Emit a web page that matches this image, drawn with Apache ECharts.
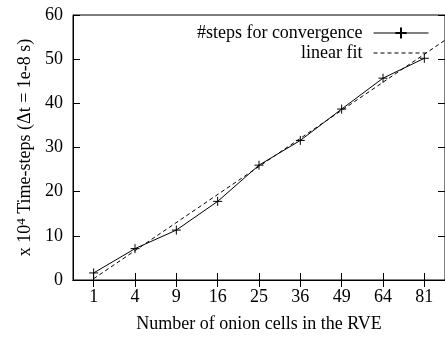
<!DOCTYPE html>
<html>
<head>
<meta charset="utf-8">
<script src="https://cdn.jsdelivr.net/npm/echarts@6/dist/echarts.min.js"></script>
<style>
html,body{margin:0;padding:0;background:#fff;}
#chart{width:445px;height:338px;}
</style>
</head>
<body>
<div id="chart"></div>
<script>
// x positions are sqrt(number of cells); labels show the cell counts
var xPos = [1, 2, 3, 4, 5, 6, 7, 8, 9];
var xLabels = ['1', '4', '9', '16', '25', '36', '49', '64', '81'];
var steps = [1.6, 7.1, 11.3, 17.8, 26.0, 31.6, 38.7, 45.7, 50.2];
var fitX = [1, 9.5];
var fitY = [0.3, 54.3];

var FONT = 'Liberation Serif';
var FS = 18;

var chart = echarts.init(document.getElementById('chart'));

var cross = 'path://M0,5L10,5M5,0L5,10';

var option = {
    animation: false,
    grid: {
        left: 73,
        top: 15,
        right: -5,
        bottom: 55,
        show: true,
        borderColor: '#000',
        borderWidth: 1
    },
    legend: {
        orient: 'vertical',
        right: 11,
        top: 19,
        align: 'right',
        itemWidth: 55,
        itemHeight: 14,
        itemGap: 2,
        textStyle: { fontFamily: FONT, fontSize: FS, color: '#000', padding: [0, 6, 0, 0] },
        data: [
            { name: '#steps for convergence', lineStyle: { width: 1 } },
            { name: 'linear fit', itemStyle: { opacity: 0 }, lineStyle: { width: 1 } }
        ]
    },
    xAxis: [{
        type: 'value',
        min: 0.5,
        max: 9.5,
        name: 'Number of onion cells in the RVE',
        nameLocation: 'middle',
        nameGap: 35,
        nameTextStyle: { fontFamily: FONT, fontSize: FS, color: '#000' },
        axisLine: { show: true, lineStyle: { color: '#000', width: 1 } },
        axisTick: { inside: true, length: 7, customValues: xPos, lineStyle: { color: '#000' } },
        axisLabel: {
            customValues: xPos,
            margin: 8,
            fontFamily: FONT, fontSize: FS, color: '#000',
            formatter: function (v) { return xLabels[Math.round(v) - 1]; }
        },
        splitLine: { show: false }
    }, {
        type: 'value',
        position: 'top',
        min: 0.5,
        max: 9.5,
        axisLine: { show: true, lineStyle: { color: '#000' } },
        axisTick: { inside: true, length: 7, customValues: xPos, lineStyle: { color: '#000' } },
        axisLabel: { show: false },
        splitLine: { show: false }
    }],
    yAxis: [{
        type: 'value',
        min: 0,
        max: 60,
        interval: 10,
        name: '{a|x 10}{s|4}{a| Time-steps (\u0394t = 1e-8 s)}',
        nameLocation: 'middle',
        nameGap: 37,
        nameTextStyle: {
            rich: {
                a: { fontFamily: FONT, fontSize: FS, color: '#000' },
                s: { fontFamily: FONT, fontSize: 13, color: '#000', verticalAlign: 'top', padding: [0, 0, 8, 0] }
            }
        },
        axisLine: { show: true, lineStyle: { color: '#000', width: 1 } },
        axisTick: { inside: true, length: 7, lineStyle: { color: '#000' } },
        axisLabel: { margin: 10, fontFamily: FONT, fontSize: FS, color: '#000' },
        splitLine: { show: false }
    }, {
        type: 'value',
        position: 'right',
        min: 0,
        max: 60,
        interval: 10,
        axisLine: { show: true, lineStyle: { color: '#000' } },
        axisTick: { inside: true, length: 7, lineStyle: { color: '#000' } },
        axisLabel: { show: false },
        splitLine: { show: false }
    }],
    series: [{
        name: '#steps for convergence',
        type: 'line',
        data: xPos.map(function (x, i) { return [x, steps[i]]; }),
        symbol: cross,
        symbolSize: 9,
        showAllSymbol: true,
        lineStyle: { color: '#000', width: 1 },
        itemStyle: { color: 'none', borderColor: '#000', borderWidth: 1 }
    }, {
        name: 'linear fit',
        type: 'line',
        data: fitX.map(function (x, i) { return [x, fitY[i]]; }),
        symbol: 'none',
        lineStyle: { color: '#000', width: 1, type: [4, 3] },
        itemStyle: { color: '#000' }
    }]
};

chart.setOption(option);
</script>
</body>
</html>
